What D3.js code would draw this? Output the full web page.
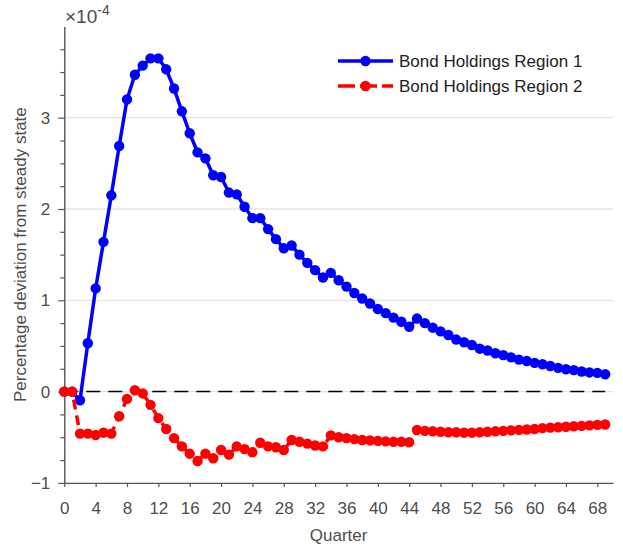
<!DOCTYPE html>
<html>
<head>
<meta charset="utf-8">
<script src="https://cdn.jsdelivr.net/npm/d3@7"></script>
<style>
  body { margin: 0; background: #fff; }
  text { font-family: "Liberation Sans", Arial, sans-serif; }
</style>
</head>
<body>
<div id="chart"></div>
<script>
// quarters 0..69
var quarters = d3.range(0, 70);

// values in units of 1e-4
var region1 = [0, 0, -0.095, 0.53, 1.13, 1.64, 2.15, 2.69, 3.20, 3.47,
    3.57, 3.65, 3.65, 3.53, 3.32, 3.07, 2.83, 2.62, 2.555, 2.37,
    2.35, 2.18, 2.16, 2.025, 1.90, 1.90, 1.78, 1.67, 1.57, 1.60,
    1.50, 1.41, 1.33, 1.25, 1.30, 1.22, 1.15, 1.08, 1.02, 0.965,
    0.905, 0.86, 0.81, 0.765, 0.71, 0.80, 0.75, 0.70, 0.66, 0.62,
    0.57, 0.54, 0.51, 0.47, 0.45, 0.42, 0.40, 0.375, 0.35, 0.335,
    0.315, 0.30, 0.28, 0.26, 0.245, 0.235, 0.22, 0.21, 0.205, 0.19];

var region2 = [0, 0, -0.46, -0.46, -0.475, -0.45, -0.46, -0.27, -0.08, 0.015,
    -0.02, -0.145, -0.29, -0.41, -0.51, -0.60, -0.68, -0.76, -0.68, -0.73,
    -0.64, -0.69, -0.60, -0.63, -0.665, -0.56, -0.60, -0.61, -0.64, -0.53,
    -0.55, -0.57, -0.59, -0.60, -0.48, -0.50, -0.51, -0.52, -0.53, -0.535,
    -0.54, -0.545, -0.55, -0.55, -0.555, -0.42, -0.43, -0.435, -0.44, -0.445,
    -0.445, -0.45, -0.45, -0.445, -0.44, -0.435, -0.43, -0.425, -0.42, -0.415,
    -0.41, -0.40, -0.395, -0.39, -0.385, -0.38, -0.375, -0.37, -0.365, -0.36];

var seriesNames = ["Bond Holdings Region 1", "Bond Holdings Region 2"];
var xTicks = [0, 4, 8, 12, 16, 20, 24, 28, 32, 36, 40, 44, 48, 52, 56, 60, 64, 68];
var yTicks = [-1, 0, 1, 2, 3];
var yMinorTicks = [-0.75, -0.5, -0.25, 0.25, 0.5, 0.75, 1.25, 1.5, 1.75,
    2.25, 2.5, 2.75, 3.25, 3.5, 3.75];

var width = 623, height = 546;
var axisColor = "#555";

var svg = d3.select("#chart")
    .append("svg")
    .attr("width", width)
    .attr("height", height);

var x = d3.scaleLinear().domain([0, 70]).range([64.3, 613]);
var y = d3.scaleLinear().domain([-1, 4]).range([482.9, 26.4]);

// gridlines
svg.append("g")
    .selectAll("line")
    .data(yTicks.filter(function (d) { return d > -1; }))
    .enter()
    .append("line")
    .attr("x1", x(0)).attr("x2", x(70))
    .attr("y1", function (d) { return y(d); })
    .attr("y2", function (d) { return y(d); })
    .attr("stroke", "#e3e3e3")
    .attr("stroke-width", 1.3);

// zero reference line
svg.append("line")
    .attr("x1", x(0)).attr("x2", x(69))
    .attr("y1", y(0)).attr("y2", y(0))
    .attr("stroke", "#000")
    .attr("stroke-width", 1.5)
    .attr("stroke-dasharray", "14,8");

// X axis
svg.append("g")
    .attr("transform", "translate(0," + y(-1) + ")")
    .call(d3.axisBottom(x).tickValues(xTicks).tickSize(4).tickPadding(15).tickSizeOuter(0));

// Y axis
svg.append("g")
    .attr("transform", "translate(" + x(0) + ",0)")
    .call(d3.axisLeft(y).tickValues(yTicks).tickSize(6).tickPadding(8).tickSizeOuter(0)
        .tickFormat(d3.format("d")));

svg.append("g")
    .attr("transform", "translate(" + x(0) + ",0)")
    .call(d3.axisLeft(y).tickValues(yMinorTicks).tickSize(4).tickFormat(""))
    .call(function (g) { g.select(".domain").remove(); });

svg.selectAll(".domain").attr("stroke", axisColor).attr("stroke-width", 1.4);
svg.selectAll(".tick line").attr("stroke", axisColor).attr("stroke-width", 1.2);
svg.selectAll(".tick text")
    .attr("fill", "#4d4d4d")
    .style("font-size", "17px");

// exponent label
var expo = svg.append("text")
    .attr("x", 65)
    .attr("y", 23)
    .attr("fill", "#4d4d4d")
    .style("font-size", "19px");
expo.append("tspan").text("\u00d710");
expo.append("tspan").attr("dy", -8).style("font-size", "14px").text("-4");

// axis labels
svg.append("text")
    .attr("x", (x(0) + x(70)) / 2)
    .attr("y", 541)
    .attr("text-anchor", "middle")
    .attr("fill", "#4d4d4d")
    .style("font-size", "17px")
    .text("Quarter");

svg.append("text")
    .attr("transform", "translate(26," + (y(-1) + y(4)) / 2 + ")rotate(-90)")
    .attr("text-anchor", "middle")
    .attr("fill", "#4d4d4d")
    .style("font-size", "17px")
    .text("Percentage deviation from steady state");

var line = d3.line()
    .x(function (d, i) { return x(quarters[i]); })
    .y(function (d) { return y(d); });

// Region 1
svg.append("path")
    .datum(region1)
    .attr("fill", "none")
    .attr("stroke", "#0000ff")
    .attr("stroke-width", 3.5)
    .attr("stroke-linejoin", "round")
    .attr("d", line);

svg.append("g")
    .selectAll("circle")
    .data(region1)
    .enter()
    .append("circle")
    .attr("cx", function (d, i) { return x(quarters[i]); })
    .attr("cy", function (d) { return y(d); })
    .attr("r", 5.2)
    .attr("fill", "#0000ff");

// Region 2
svg.append("path")
    .datum(region2)
    .attr("fill", "none")
    .attr("stroke", "#ff0000")
    .attr("stroke-width", 3.5)
    .attr("stroke-dasharray", "10,6")
    .attr("d", line);

svg.append("g")
    .selectAll("circle")
    .data(region2)
    .enter()
    .append("circle")
    .attr("cx", function (d, i) { return x(quarters[i]); })
    .attr("cy", function (d) { return y(d); })
    .attr("r", 5.2)
    .attr("fill", "#ff0000");

// legend
var legend = svg.append("g").attr("transform", "translate(338,61)");
var colors = ["#0000ff", "#ff0000"];
var dashes = [null, "17,5"];

legend.selectAll("g")
    .data(seriesNames)
    .enter()
    .append("g")
    .attr("transform", function (d, i) { return "translate(0," + i * 25 + ")"; })
    .each(function (d, i) {
        var g = d3.select(this);
        g.append("line")
            .attr("x1", 0).attr("x2", 55)
            .attr("stroke", colors[i])
            .attr("stroke-width", 3.5)
            .attr("stroke-dasharray", dashes[i]);
        g.append("circle").attr("cx", 27.5).attr("r", 5.2).attr("fill", colors[i]);
        g.append("text")
            .attr("x", 61)
            .attr("y", 6)
            .attr("fill", "#222")
            .style("font-size", "17px")
            .text(d);
    });
</script>
</body>
</html>
